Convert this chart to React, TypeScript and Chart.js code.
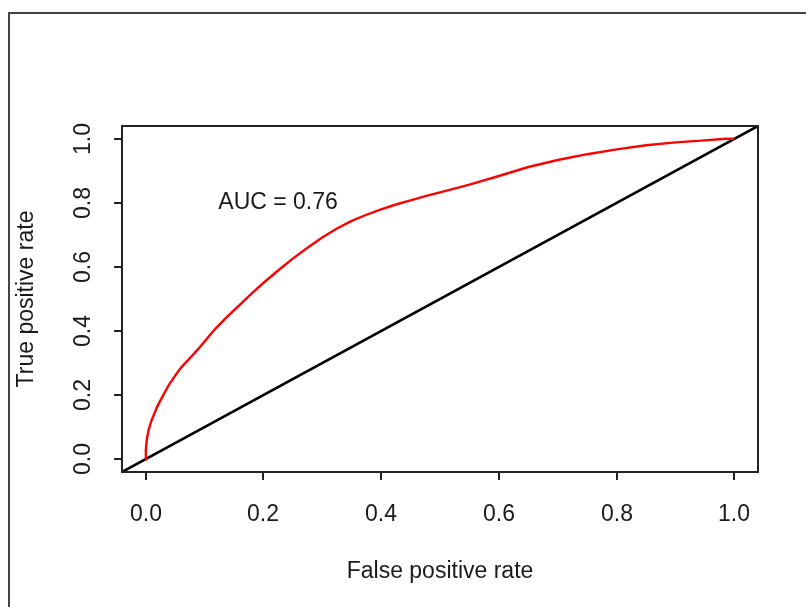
import React, { useEffect, useRef } from "react";
import { Chart, registerables } from "chart.js";

Chart.register(...registerables);

// ROC curve
const fpr = [0, 0.0005, 0.002, 0.005, 0.01, 0.02, 0.03, 0.04, 0.05, 0.06, 0.075, 0.09, 0.105, 0.12, 0.14, 0.16, 0.18, 0.2, 0.225, 0.25, 0.275, 0.3, 0.325, 0.35, 0.375, 0.4, 0.425, 0.45, 0.475, 0.5, 0.55, 0.6, 0.65, 0.7, 0.75, 0.8, 0.85, 0.9, 0.95, 0.985, 1.0];
const tpr = [0, 0.03, 0.06, 0.09, 0.12, 0.165, 0.2, 0.233, 0.26, 0.285, 0.315, 0.345, 0.378, 0.41, 0.447, 0.482, 0.517, 0.55, 0.589, 0.626, 0.66, 0.692, 0.72, 0.744, 0.763, 0.78, 0.795, 0.808, 0.821, 0.833, 0.857, 0.884, 0.912, 0.934, 0.952, 0.967, 0.98, 0.989, 0.995, 1.0, 1.0];

// reference diagonal (abline 0,1) across the whole plot range
const diagX = [-0.04, 1.04];
const diagY = [-0.04, 1.04];

const tickValues = [0, 0.2, 0.4, 0.6, 0.8, 1.0];
const tickLabels = ["0.0", "0.2", "0.4", "0.6", "0.8", "1.0"];

const xTitle = "False positive rate";
const yTitle = "True positive rate";
const aucText = "AUC = 0.76";
const aucPos = [0.225, 0.8];

const FONT = '23px "Liberation Sans", Arial, sans-serif';

const decorPlugin = {
  id: "rdecor",
  beforeDraw(chart: any) {
    const ctx = chart.ctx;
    ctx.save();
    ctx.fillStyle = "#fff";
    ctx.fillRect(0, 0, chart.width, chart.height);
    // outer frame (left and top edges)
    ctx.strokeStyle = "#444";
    ctx.lineWidth = 2;
    ctx.beginPath();
    ctx.moveTo(9, chart.height);
    ctx.lineTo(9, 13);
    ctx.lineTo(chart.width, 13);
    ctx.stroke();
    ctx.restore();
  },
  afterDraw(chart: any) {
    const ctx = chart.ctx;
    const a = chart.chartArea;
    const xs = chart.scales.x;
    const ys = chart.scales.y;
    ctx.save();
    ctx.strokeStyle = "#222";
    ctx.lineWidth = 2;
    ctx.strokeRect(a.left, a.top, a.right - a.left, a.bottom - a.top);
    ctx.fillStyle = "#1a1a1a";
    ctx.font = FONT;
    // x ticks
    tickValues.forEach((v, i) => {
      const px = Math.round(xs.getPixelForValue(v));
      ctx.beginPath();
      ctx.moveTo(px, a.bottom);
      ctx.lineTo(px, a.bottom + 8);
      ctx.stroke();
      ctx.textAlign = "center";
      ctx.textBaseline = "middle";
      ctx.fillText(tickLabels[i], px, 515);
    });
    // y ticks
    tickValues.forEach((v, i) => {
      const py = Math.round(ys.getPixelForValue(v));
      ctx.beginPath();
      ctx.moveTo(a.left, py);
      ctx.lineTo(a.left - 8, py);
      ctx.stroke();
      ctx.save();
      ctx.translate(84, py);
      ctx.rotate(-Math.PI / 2);
      ctx.textAlign = "center";
      ctx.textBaseline = "middle";
      ctx.fillText(tickLabels[i], 0, 0);
      ctx.restore();
    });
    // titles
    ctx.textAlign = "center";
    ctx.textBaseline = "middle";
    ctx.fillText(xTitle, (a.left + a.right) / 2, 572);
    ctx.save();
    ctx.translate(27, (a.top + a.bottom) / 2);
    ctx.rotate(-Math.PI / 2);
    ctx.fillText(yTitle, 0, 0);
    ctx.restore();
    // AUC annotation
    ctx.fillText(aucText, xs.getPixelForValue(aucPos[0]), ys.getPixelForValue(aucPos[1]));
    ctx.restore();
  },
};

export default function App() {
  const ref = useRef<HTMLCanvasElement>(null);
  useEffect(() => {
    if (!ref.current) return;
    const chart = new Chart(ref.current, {
      type: "scatter",
      data: {
        datasets: [
          {
            label: "ROC",
            data: fpr.map((x, i) => ({ x, y: tpr[i] })),
            showLine: true,
            borderColor: "#ff0000",
            borderWidth: 2.4,
            pointRadius: 0,
            tension: 0,
          },
          {
            label: "diag",
            data: diagX.map((x, i) => ({ x, y: diagY[i] })),
            showLine: true,
            borderColor: "#000",
            borderWidth: 2.6,
            pointRadius: 0,
          },
        ],
      },
      options: {
        responsive: false,
        animation: false,
        layout: { padding: { left: 122, top: 126, right: 48, bottom: 135 } },
        scales: {
          x: { type: "linear", min: -0.04, max: 1.04, display: false },
          y: { type: "linear", min: -0.04, max: 1.04, display: false },
        },
        plugins: { legend: { display: false }, tooltip: { enabled: false } },
      },
      plugins: [decorPlugin],
    });
    return () => chart.destroy();
  }, []);
  return (
    <div style={{ position: "fixed", left: 0, top: 0, width: 806, height: 607, background: "#fff" }}>
      <canvas ref={ref} width={806} height={607} style={{ width: 806, height: 607, display: "block" }} />
    </div>
  );
}
